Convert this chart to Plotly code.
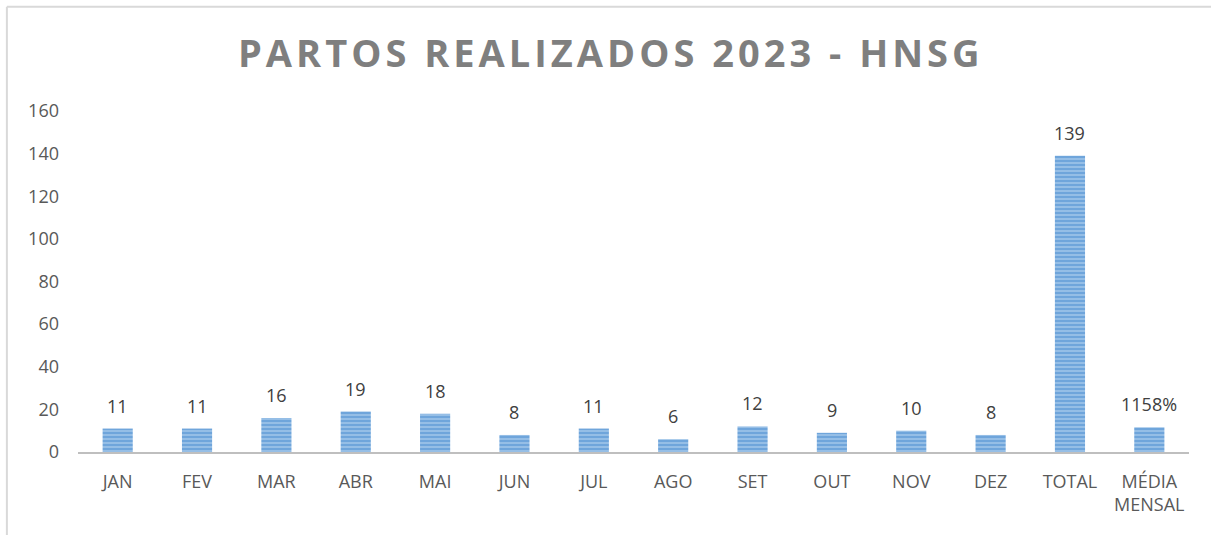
import plotly.graph_objects as go

categories = ["JAN", "FEV", "MAR", "ABR", "MAI", "JUN", "JUL", "AGO", "SET", "OUT", "NOV", "DEZ", "TOTAL", "MÉDIA<br>MENSAL"]
values = [11, 11, 16, 19, 18, 8, 11, 6, 12, 9, 10, 8, 139, 11.58]
labels = ["11", "11", "16", "19", "18", "8", "11", "6", "12", "9", "10", "8", "139", "1158%"]
title_text = "PARTOS REALIZADOS 2023 - HNSG"
y_ticks = [0, 20, 40, 60, 80, 100, 120, 140, 160]

fig = go.Figure()
fig.add_trace(go.Bar(
    x=categories,
    y=values,
    width=0.38,
    marker=dict(
        color="#95bee6",
        line=dict(width=0),
        pattern=dict(shape="-", fgcolor="#4a8ccf", size=4, solidity=0.5),
    ),
    hoverinfo="skip",
))

for c, v, t in zip(categories, values, labels):
    fig.add_annotation(
        x=c, y=v, text=t, showarrow=False, yanchor="bottom", yshift=9,
        font=dict(family="Open Sans", size=18, color="#404040"),
    )

fig.add_annotation(
    xref="paper", yref="paper", x=0.48, y=1.173, xanchor="center", yanchor="middle",
    text='<span style="letter-spacing:4px">' + title_text + '</span>',
    showarrow=False,
    font=dict(family="Open Sans", size=38, color="#7f7f7f", weight="bold"),
)

# chart frame (top and left edges visible)
fig.add_shape(type="line", xref="paper", yref="paper", x0=-0.064, x1=1.03, y0=1.306, y1=1.306,
              line=dict(color="#d9d9d9", width=2), layer="below")
fig.add_shape(type="line", xref="paper", yref="paper", x0=-0.064, x1=-0.064, y0=1.306, y1=-0.26,
              line=dict(color="#d9d9d9", width=2), layer="below")

fig.update_layout(
    width=1211, height=535,
    margin=dict(l=78, r=22, t=111, b=83),
    paper_bgcolor="white", plot_bgcolor="white",
    showlegend=False,
    bargap=0.62,
    font=dict(family="Open Sans", size=18, color="#595959"),
)
fig.update_xaxes(
    showline=True, linecolor="#bfbfbf", linewidth=2, showgrid=False, ticks="",
    tickfont=dict(family="Open Sans", size=18, color="#595959"),
    ticklabelstandoff=12,
)
fig.update_yaxes(
    range=[0, 160], tickvals=y_ticks, showgrid=False, zeroline=False, showline=False,
    ticks="", ticklabelstandoff=18,
    tickfont=dict(family="Open Sans", size=18, color="#595959"),
)

fig.write_html(
    "out.html",
    config={"displayModeBar": False},
    post_script="document.body.style.margin='0';document.body.style.overflow='hidden';",
)
